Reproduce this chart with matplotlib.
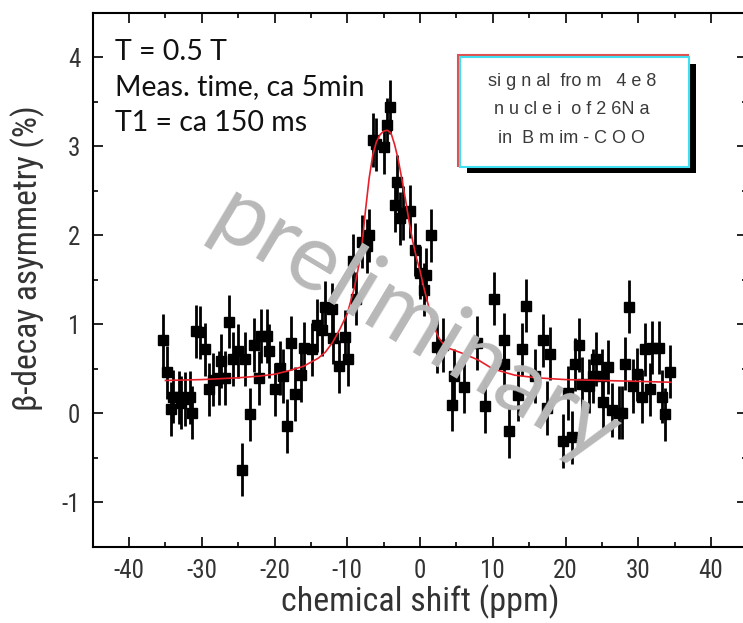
import matplotlib
matplotlib.use("Agg")
import matplotlib.pyplot as plt
from matplotlib.patches import Rectangle
from matplotlib.ticker import MultipleLocator
from matplotlib import font_manager

plt.rcParams['axes.unicode_minus'] = False

# ---- data ----
shift_ppm = [-35.3, -34.8, -34.2, -33.9, -33.2, -32.8, -32.3, -31.6, -31.4, -30.8,
             -30.3, -29.6, -29.0, -28.4, -27.7, -27.3, -26.8, -26.2, -25.7, -25.0,
             -24.5, -24.1, -23.4, -22.8, -22.1, -21.8, -21.1, -20.7, -19.9, -19.3,
             -18.8, -18.3, -17.7, -17.2, -16.4, -16.0, -14.9, -14.2, -13.5, -13.1,
             -12.1, -12.0, -11.1, -10.3, -9.9, -9.2, -8.8, -8.0, -7.3, -7.0,
             -6.5, -6.0, -5.0, -4.6, -4.1, -3.4, -3.1, -2.8, -2.3, -1.4,
             -0.7, 0.0, 0.5, 0.8, 1.5, 2.3, 3.2, 4.4, 4.6, 6.1,
             7.8, 8.9, 10.1, 11.5, 11.6, 12.2, 13.5, 14.0, 14.6, 15.8,
             16.9, 17.4, 17.9, 19.7, 20.4, 20.9, 21.3, 21.9, 22.2, 23.2,
             23.8, 24.2, 25.0, 25.2, 25.9, 26.4, 27.3, 27.7, 28.2, 28.7,
             29.3, 29.8, 30.5, 30.9, 31.6, 31.9, 32.8, 33.2, 33.7, 34.4]
asymmetry = [0.82, 0.46, 0.05, 0.19, 0.18, 0.12, 0.16, 0.18, 0.01, 0.92,
             0.91, 0.72, 0.27, 0.38, 0.40, 0.59, 0.40, 1.03, 0.61, 0.70,
             -0.63, 0.61, -0.01, 0.77, 0.40, 0.87, 0.87, 0.70, 0.27, 0.51,
             0.42, -0.14, 0.79, 0.22, 0.43, 0.73, 0.72, 0.99, 0.94, 1.19,
             1.17, 0.85, 0.53, 0.86, 0.61, 1.71, 1.29, 1.93, 1.88, 2.00,
             3.07, 3.02, 2.99, 3.24, 3.44, 2.34, 2.60, 2.19, 2.25, 2.27,
             1.84, 1.58, 1.39, 1.56, 2.00, 0.75, 0.77, 0.10, 0.42, 0.30,
             0.79, 0.08, 1.29, 0.83, 0.55, -0.20, 0.21, 0.72, 1.21, 0.42,
             0.82, 0.06, 0.67, -0.31, 0.23, -0.27, 0.55, 0.77, 0.33, 0.31,
             0.42, 0.61, 0.42, 0.13, 0.52, 0.04, 0.01, 0.01, 0.56, 1.20,
             0.31, 0.44, 0.19, 0.72, 0.27, 0.74, 0.74, 0.19, -0.01, 0.47]
asym_err = 0.3

fit_x = [-35, -30, -25, -22, -20, -18, -16, -14, -13, -12, -11, -10, -9, -8.5, -8,
         -7.5, -7, -6.5, -6, -5.5, -5, -4.5, -4, -3.5, -3, -2.5, -2, -1.5, -1,
         -0.5, 0, 0.5, 1, 1.5, 2, 2.5, 3, 3.5, 4, 5, 6, 8, 10, 13, 16, 20, 25,
         30, 34.5]
fit_y = [0.37, 0.38, 0.40, 0.42, 0.44, 0.48, 0.53, 0.62, 0.69, 0.80, 0.95, 1.12,
         1.42, 1.63, 1.88, 2.28, 2.64, 2.90, 3.05, 3.13, 3.17, 3.18, 3.15, 3.02,
         2.85, 2.63, 2.40, 2.15, 1.93, 1.75, 1.60, 1.42, 1.26, 1.10, 0.96, 0.86,
         0.80, 0.76, 0.73, 0.70, 0.67, 0.60, 0.50, 0.43, 0.40, 0.38, 0.37, 0.36,
         0.35]

x_ticks = [-40, -30, -20, -10, 0, 10, 20, 30, 40]
y_ticks = [-1, 0, 1, 2, 3, 4]

# pick a condensed sans if one is installed
installed = {f.name for f in font_manager.fontManager.ttflist}
narrow = [f for f in ['Liberation Sans Narrow', 'Roboto Condensed',
                      'DejaVu Sans Condensed', 'Liberation Sans', 'DejaVu Sans']
          if f in installed] or ['DejaVu Sans']

W, H = 743, 623
fig = plt.figure(figsize=(W / 100, H / 100), dpi=100)
L, R, T, B = 92.7, 747.4, 12.7, 547.0
ax = fig.add_axes([L / W, 1 - B / H, (R - L) / W, (B - T) / H])

tick_color = '#333333'

ax.errorbar(shift_ppm, asymmetry, yerr=asym_err, fmt='s', color='black',
            ms=6.5, ecolor='black', elinewidth=2.0, capsize=0, zorder=3)
ax.plot(fit_x, fit_y, color='#e8202a', lw=1.2, zorder=4)

ax.set_xlim(-45, 45)
ax.set_ylim(-1.5, 4.5)
ax.set_xticks(x_ticks)
ax.set_yticks(y_ticks)
ax.xaxis.set_minor_locator(MultipleLocator(5))
ax.yaxis.set_minor_locator(MultipleLocator(0.5))
ax.tick_params(which='both', direction='in', top=True, right=True,
               color='black', width=1.2)
ax.tick_params(which='major', length=7, pad=9, labelsize=18, labelcolor=tick_color)
ax.tick_params(which='minor', length=3.5)
for lab in ax.get_xticklabels() + ax.get_yticklabels():
    lab.set_family(narrow)
for s in ax.spines.values():
    s.set_linewidth(1.5)

ax.set_xlabel('chemical shift (ppm)', fontsize=24.5, color=tick_color,
              family=narrow, labelpad=1)
ax.set_ylabel('β-decay asymmetry (%)', fontsize=24, color=tick_color,
              family=narrow)
ax.yaxis.set_label_coords(-0.073, 0.54)

# annotation text
for i, line in enumerate(['T = 0.5 T', 'Meas. time, ca 5min', 'T1 = ca 150 ms']):
    fig.text(115 / W, 1 - (52 + 35.5 * i) / H, line, fontsize=20.5, family='Lato',
             color='#111111', va='center', ha='left')

# framed box with shadow
def px_rect(x0, y0, x1, y1, **kw):
    r = Rectangle((x0 / W, 1 - y1 / H), (x1 - x0) / W, (y1 - y0) / H,
                  transform=fig.transFigure, **kw)
    fig.add_artist(r)

px_rect(467, 64, 696, 173, facecolor='black', edgecolor='none', zorder=5)
px_rect(458, 55, 688, 166, facecolor='white', edgecolor='#e05050', lw=1.5, zorder=6)
px_rect(460, 57, 689, 167, facecolor='white', edgecolor='#40e0f0', lw=1.5, zorder=7)
box_txt = 'si g n al  fro m   4 e 8\nn u cl e i  o f 2 6N a\nin  B m im - C O O'
fig.text(572 / W, 1 - 110 / H, box_txt, fontsize=13, family='Liberation Sans',
         color='#3a3a3a', ha='center', va='center', linespacing=1.85, zorder=8)

# watermark
ax.text(-0.8, 0.97, 'preliminary', fontsize=67, family='Lato', color='#b8b8b8',
        rotation=-31, ha='center', va='center', zorder=6, rotation_mode='anchor')

fig.savefig('out.png', dpi=100)
